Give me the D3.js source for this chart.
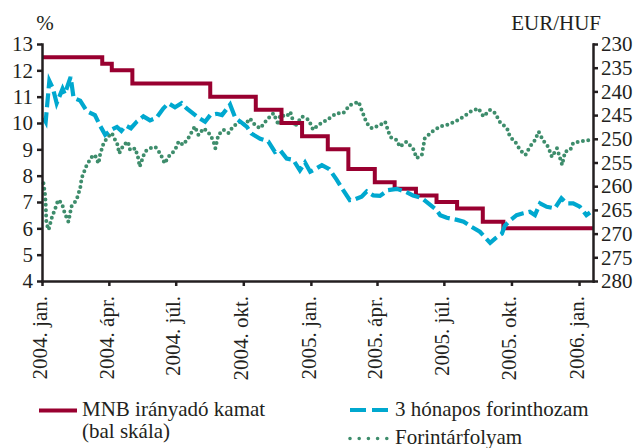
<!DOCTYPE html>
<html>
<head>
<meta charset="utf-8">
<script src="https://cdn.jsdelivr.net/npm/d3@7"></script>
<style>
  body { margin: 0; background: #fff; }
  svg text { font-family: "Liberation Serif", "Times New Roman", serif; fill: #231f20; }
  .axis path, .axis line { stroke: #231f20; stroke-width: 2.5; }
</style>
</head>
<body>
<div id="graph"></div>
<script>
/*
    MNB base rate, 3-month yield (left scale) and EUR/HUF (right, inverted)
*/

// MNB irányadó kamat - step dates and rates (%)
var rateDates = ["2004-01-01", "2004-03-23", "2004-04-05", "2004-05-03", "2004-08-17",
    "2004-10-18", "2004-11-22", "2004-12-20", "2005-01-24", "2005-02-21", "2005-03-29",
    "2005-04-25", "2005-05-24", "2005-06-21", "2005-07-19", "2005-08-23", "2005-09-20",
    "2006-01-20"]
var rateValues = [12.5, 12.25, 12.0, 11.5, 11.0, 10.5, 10.0, 9.5, 9.0, 8.25, 7.75,
    7.5, 7.25, 7.0, 6.75, 6.25, 6.0, 6.0]

// 3 hónapos forinthozam (%)
var yieldDates = ["2004-01-03", "2004-01-06", "2004-01-11", "2004-01-16", "2004-01-21",
    "2004-01-29", "2004-02-01", "2004-02-09", "2004-02-13", "2004-02-22", "2004-03-02",
    "2004-03-13", "2004-03-20", "2004-03-27", "2004-04-05", "2004-04-12", "2004-04-18",
    "2004-04-24", "2004-05-01", "2004-05-09", "2004-05-18", "2004-05-27", "2004-06-05",
    "2004-06-14", "2004-06-21", "2004-06-30", "2004-07-09", "2004-07-16", "2004-08-01",
    "2004-08-10", "2004-08-17", "2004-08-26", "2004-09-02", "2004-09-13", "2004-09-20",
    "2004-09-27", "2004-10-06", "2004-10-12", "2004-10-24", "2004-11-04", "2004-11-13",
    "2004-11-20", "2004-11-29", "2004-12-08", "2004-12-17", "2004-12-24", "2004-12-31",
    "2005-01-07", "2005-01-16", "2005-01-26", "2005-02-05", "2005-02-14", "2005-02-23",
    "2005-03-02", "2005-03-11", "2005-03-18", "2005-03-27", "2005-04-05", "2005-04-16",
    "2005-04-28", "2005-05-09", "2005-05-20", "2005-06-01", "2005-06-12", "2005-06-21",
    "2005-06-26", "2005-07-05", "2005-07-19", "2005-07-28", "2005-08-08", "2005-08-19",
    "2005-09-02", "2005-09-09", "2005-09-18", "2005-09-22", "2005-09-29", "2005-10-08",
    "2005-10-17", "2005-10-26", "2005-11-02", "2005-11-09", "2005-11-18", "2005-11-29",
    "2005-12-08", "2005-12-15", "2005-12-24", "2006-01-02", "2006-01-11", "2006-01-16"]
var yieldValues = [10.2, 10.05, 11.6, 11.3, 10.75,
    11.3, 11.1, 11.75, 10.95, 10.85, 10.45,
    10.3, 9.9, 9.55, 9.75, 9.85, 9.7,
    9.9, 9.8, 10.05, 10.25, 10.1, 10.2,
    10.55, 10.75, 10.6, 10.75, 10.55, 10.2,
    10.05, 10.3, 10.35, 10.3, 10.7, 10.2,
    10.05, 9.85, 9.6, 9.4, 9.3, 8.9,
    8.97, 8.65, 8.6, 8.2, 8.5, 8.15,
    8.25, 8.4, 8.25, 7.85, 7.45, 7.07,
    7.1, 7.2, 7.4, 7.25, 7.23, 7.45,
    7.5, 7.4, 7.25, 7.15, 6.9, 6.7,
    6.5, 6.4, 6.32, 6.25, 6.05, 5.87,
    5.45, 5.62, 5.8, 6.1, 6.3, 6.5,
    6.57, 6.63, 6.5, 6.95, 6.82, 6.76,
    7.14, 6.95, 6.95, 6.82, 6.5, 6.6]

// Forintárfolyam (EUR/HUF)
var fxDates = ["2004-01-03", "2004-01-05", "2004-01-06", "2004-01-07", "2004-01-10",
    "2004-01-14", "2004-01-19", "2004-01-23", "2004-01-28", "2004-02-01", "2004-02-06",
    "2004-02-10", "2004-02-17", "2004-02-22", "2004-02-24", "2004-03-02", "2004-03-09",
    "2004-03-13", "2004-03-18", "2004-03-20", "2004-03-24", "2004-03-29", "2004-04-05",
    "2004-04-13", "2004-04-15", "2004-04-21", "2004-04-27", "2004-04-30", "2004-05-07",
    "2004-05-11", "2004-05-13", "2004-05-20", "2004-05-27", "2004-06-03", "2004-06-07",
    "2004-06-12", "2004-06-16", "2004-06-21", "2004-06-30", "2004-07-05", "2004-07-11",
    "2004-07-18", "2004-07-27", "2004-08-01", "2004-08-08", "2004-08-14", "2004-08-21",
    "2004-08-24", "2004-08-28", "2004-09-04", "2004-09-11", "2004-09-17", "2004-09-27",
    "2004-10-03", "2004-10-10", "2004-10-17", "2004-10-24", "2004-11-02", "2004-11-11",
    "2004-11-18", "2004-11-20", "2004-11-29", "2004-12-04", "2004-12-10", "2004-12-20",
    "2004-12-29", "2005-01-04", "2005-01-11", "2005-01-23", "2005-02-05", "2005-02-14",
    "2005-02-23", "2005-03-07", "2005-03-11", "2005-03-18", "2005-03-25", "2005-04-05",
    "2005-04-12", "2005-04-19", "2005-04-28", "2005-05-02", "2005-05-11", "2005-05-20",
    "2005-05-25", "2005-06-01", "2005-06-05", "2005-06-15", "2005-06-26", "2005-07-05",
    "2005-07-16", "2005-07-28", "2005-08-06", "2005-08-17", "2005-08-24", "2005-09-02",
    "2005-09-09", "2005-09-15", "2005-09-25", "2005-09-29", "2005-10-06", "2005-10-13",
    "2005-10-20", "2005-10-26", "2005-11-02", "2005-11-07", "2005-11-13", "2005-11-20",
    "2005-11-25", "2005-12-02", "2005-12-09", "2005-12-13", "2005-12-20", "2005-12-24",
    "2006-01-02", "2006-01-11", "2006-01-18"]
var fxValues = [259.4, 261.5, 263.6, 267.8, 269.2,
    266.8, 264.7, 262.9, 263.6, 265.7, 267.5,
    264.3, 262.9, 260.4, 258.3, 255.5, 253.8,
    253.4, 255.2, 253.4, 251.3, 249.9, 248.8,
    251.3, 253.1, 251.3, 250.6, 252.4, 252.0,
    254.1, 255.9, 252.7, 252.0, 251.7, 252.4,
    253.8, 255.2, 253.8, 252.4, 250.6, 251.3,
    249.9, 247.4, 249.2, 247.8, 248.5, 250.3,
    252.0, 249.2, 248.1, 248.8, 247.4, 246.4,
    247.1, 245.7, 247.1, 247.8, 246.0, 244.6,
    247.1, 245.0, 245.3, 244.3, 247.4, 245.3,
    246.0, 248.1, 247.1, 246.0, 244.6, 244.6,
    242.9, 242.2, 243.9, 246.7, 247.8, 247.1,
    246.4, 249.6, 250.3, 251.7, 250.6, 252.0,
    254.1, 253.4, 249.9, 248.5, 247.4, 247.1,
    246.4, 245.3, 244.3, 243.6, 245.3, 243.9,
    244.6, 246.4, 247.8, 249.6, 250.6, 252.4,
    253.4, 251.7, 250.3, 248.5, 250.3, 251.7,
    253.8, 252.0, 255.5, 252.7, 252.4, 250.9,
    250.6, 250.3, 250.3]

// x axis ticks (quarters)
var tickDates = ["2004-01-01", "2004-04-01", "2004-07-01", "2004-10-01", "2005-01-01",
    "2005-04-01", "2005-07-01", "2005-10-01", "2006-01-01"]
var tickLabels = ["2004. jan.", "2004. ápr.", "2004. júl.", "2004. okt.", "2005. jan.",
    "2005. ápr.", "2005. júl.", "2005. okt.", "2006. jan."]

var leftTicks = [4, 5, 6, 7, 8, 9, 10, 11, 12, 13]
var rightTicks = [230, 235, 240, 245, 250, 255, 260, 265, 270, 275, 280]

var parse = d3.timeParse("%Y-%m-%d")

function zip(dates, values) {
    return dates.map(function (d, i) { return { date: parse(d), value: values[i] } })
}
var rateData = zip(rateDates, rateValues),
    yieldData = zip(yieldDates, yieldValues),
    fxData = zip(fxDates, fxValues)

var colors = { rate: "#990030", yield: "#00a8cf", fx: "#3e8d6c" }

/*
    Dimensions
*/
var W = 637, H = 448
var plot = { left: 42, right: 593, top: 44, bottom: 281 }
var fontSize = "21px"

var svg = d3.select("#graph").append("svg")
    .attr("width", W)
    .attr("height", H)

var x = d3.scaleTime()
    .domain([parse("2004-01-01"), parse("2006-01-20")])
    .range([plot.left, plot.right])
var yLeft = d3.scaleLinear().domain([4, 13]).range([plot.bottom, plot.top])
var yRight = d3.scaleLinear().domain([230, 280]).range([plot.top, plot.bottom])

// Lines
var fxLine = d3.line()
    .x(function (d) { return x(d.date) })
    .y(function (d) { return yRight(d.value) })
var yieldLine = d3.line()
    .x(function (d) { return x(d.date) })
    .y(function (d) { return yLeft(d.value) })
var rateLine = d3.line()
    .curve(d3.curveStepAfter)
    .x(function (d) { return x(d.date) })
    .y(function (d) { return yLeft(d.value) })

svg.append("path")
    .attr("d", fxLine(fxData))
    .attr("fill", "none")
    .attr("stroke", colors.fx)
    .attr("stroke-width", 4)
    .attr("stroke-linecap", "round")
    .attr("stroke-dasharray", "0,5.4")

svg.append("path")
    .attr("d", rateLine(rateData))
    .attr("fill", "none")
    .attr("stroke", colors.rate)
    .attr("stroke-width", 4)

svg.append("path")
    .attr("d", yieldLine(yieldData))
    .attr("fill", "none")
    .attr("stroke", colors.yield)
    .attr("stroke-width", 4.2)
    .attr("stroke-dasharray", "14,5")

// Axes
var leftAxis = svg.append("g")
    .attr("class", "axis")
    .attr("transform", "translate(" + plot.left + ",0)")
    .call(d3.axisLeft(yLeft).tickValues(leftTicks).tickSize(5).tickSizeOuter(0).tickPadding(4))
leftAxis.selectAll("text").style("font-size", fontSize)

var rightAxis = svg.append("g")
    .attr("class", "axis")
    .attr("transform", "translate(" + plot.right + ",0)")
    .call(d3.axisRight(yRight).tickValues(rightTicks).tickSize(5).tickSizeOuter(0).tickPadding(3))
rightAxis.selectAll("text").style("font-size", fontSize)

var bottomAxis = svg.append("g")
    .attr("class", "axis")
    .attr("transform", "translate(0," + plot.bottom + ")")
    .call(d3.axisBottom(x)
        .tickValues(tickDates.map(parse))
        .tickFormat(function (d, i) { return tickLabels[i] })
        .tickSize(5).tickSizeOuter(0))
bottomAxis.selectAll("text")
    .style("font-size", fontSize)
    .style("text-anchor", "end")
    .attr("transform", "rotate(-90)")
    .attr("x", -15)
    .attr("y", 0)
    .attr("dy", "0.2em")

svg.selectAll(".axis .domain").attr("stroke-linecap", "square")

// Axis titles
svg.append("text")
    .attr("x", 45).attr("y", 30)
    .attr("text-anchor", "middle")
    .style("font-size", fontSize)
    .text("%")
svg.append("text")
    .attr("x", 601).attr("y", 30)
    .attr("text-anchor", "end")
    .style("font-size", fontSize)
    .text("EUR/HUF")

// Legend
var legend = svg.append("g").style("font-size", fontSize)

legend.append("line")
    .attr("x1", 39).attr("x2", 77).attr("y1", 410.5).attr("y2", 410.5)
    .attr("stroke", colors.rate).attr("stroke-width", 4)
legend.append("text").attr("x", 82).attr("y", 416).text("MNB irányadó kamat")
legend.append("text").attr("x", 82).attr("y", 438).text("(bal skála)")

legend.append("line")
    .attr("x1", 350).attr("x2", 388).attr("y1", 410).attr("y2", 410)
    .attr("stroke", colors.yield).attr("stroke-width", 4)
    .attr("stroke-dasharray", "16,6")
legend.append("text").attr("x", 395).attr("y", 416).text("3 hónapos forinthozam")

legend.append("line")
    .attr("x1", 350).attr("x2", 388).attr("y1", 438.5).attr("y2", 438.5)
    .attr("stroke", colors.fx).attr("stroke-width", 3.6)
    .attr("stroke-linecap", "round")
    .attr("stroke-dasharray", "0,9.2")
legend.append("text").attr("x", 395).attr("y", 444).text("Forintárfolyam")
</script>
</body>
</html>
